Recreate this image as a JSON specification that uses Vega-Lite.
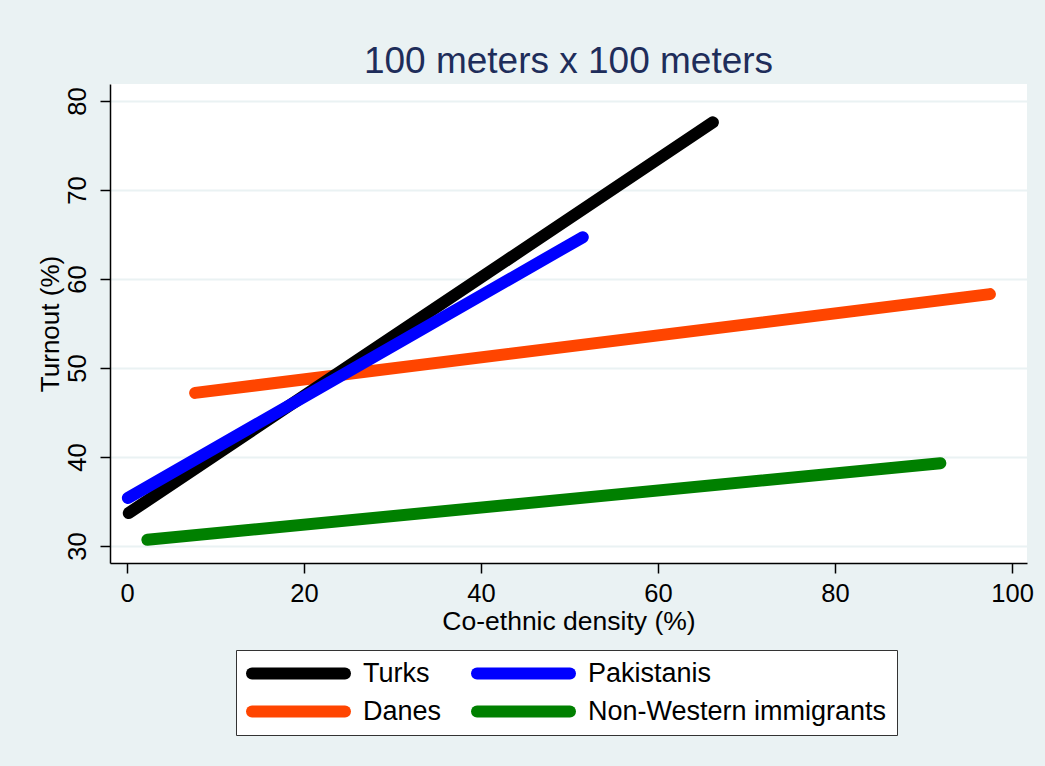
{
  "$schema": "https://vega.github.io/schema/vega-lite/v6.json",
  "width": 917,
  "height": 479,
  "autosize": {"type": "none"},
  "padding": {"left": 110, "top": 84, "right": 18, "bottom": 203},
  "background": "#EAF2F3",
  "title": {
    "text": "100 meters x 100 meters",
    "fontSize": 37,
    "font": "Liberation Sans",
    "fontWeight": "normal",
    "color": "#1E2D5A",
    "anchor": "middle",
    "baseline": "alphabetic",
    "offset": -26
  },
  "data": {
    "values": [
      {"group": "Danes", "density": 7.7, "turnout": 47.2},
      {"group": "Danes", "density": 97.5, "turnout": 58.3},
      {"group": "Non-Western immigrants", "density": 2.3, "turnout": 30.7},
      {"group": "Non-Western immigrants", "density": 91.9, "turnout": 39.3},
      {"group": "Turks", "density": 0.2, "turnout": 33.7},
      {"group": "Turks", "density": 66.2, "turnout": 77.6},
      {"group": "Pakistanis", "density": 0.1, "turnout": 35.4},
      {"group": "Pakistanis", "density": 51.5, "turnout": 64.7}
    ]
  },
  "mark": {"type": "line", "strokeWidth": 12, "strokeCap": "round"},
  "encoding": {
    "x": {
      "field": "density",
      "type": "quantitative",
      "title": "Co-ethnic density (%)",
      "scale": {"domain": [-1.92, 101.69], "nice": false, "zero": false},
      "axis": {
        "values": [0, 20, 40, 60, 80, 100],
        "grid": false,
        "labelFontSize": 25.5,
        "titleFontSize": 26.5,
        "labelPadding": 8,
        "titlePadding": 2
      }
    },
    "y": {
      "field": "turnout",
      "type": "quantitative",
      "title": "Turnout (%)",
      "scale": {"domain": [28.09, 81.91], "nice": false, "zero": false},
      "axis": {
        "values": [30, 40, 50, 60, 70, 80],
        "grid": true,
        "gridColor": "#EAF2F3",
        "gridWidth": 2,
        "labelAngle": -90,
        "labelAlign": "center",
        "labelBaseline": "bottom",
        "labelFontSize": 25.5,
        "titleFontSize": 26,
        "labelPadding": 10,
        "titlePadding": 2
      }
    },
    "color": {
      "field": "group",
      "type": "nominal",
      "scale": {
        "domain": ["Turks", "Pakistanis", "Danes", "Non-Western immigrants"],
        "range": ["#000000", "#0000FF", "#FF4500", "#008000"]
      },
      "legend": {
        "title": null,
        "orient": "none",
        "legendX": 126,
        "legendY": 566,
        "direction": "horizontal",
        "columns": 2,
        "columnPadding": 29,
        "rowPadding": 10,
        "symbolType": "stroke",
        "symbolSize": 8649,
        "symbolStrokeWidth": 12,
        "clipHeight": 27,
        "labelOffset": 12,
        "labelFontSize": 27,
        "labelFont": "Liberation Sans",
        "labelColor": "#000000",
        "labelLimit": 500,
        "padding": 10,
        "fillColor": "#FFFFFF",
        "strokeColor": "#333333",
        "encode": {
          "symbols": {"update": {"strokeCap": {"value": "round"}}}
        }
      }
    }
  },
  "config": {
    "font": "Liberation Sans",
    "view": {"stroke": null, "fill": "#FFFFFF"},
    "axis": {
      "domainColor": "#000000",
      "domainWidth": 1.5,
      "tickColor": "#000000",
      "tickWidth": 1.5,
      "tickSize": 10,
      "labelColor": "#000000",
      "titleColor": "#000000",
      "labelFont": "Liberation Sans",
      "titleFont": "Liberation Sans",
      "titleFontWeight": "normal",
      "labelOverlap": false
    }
  }
}
